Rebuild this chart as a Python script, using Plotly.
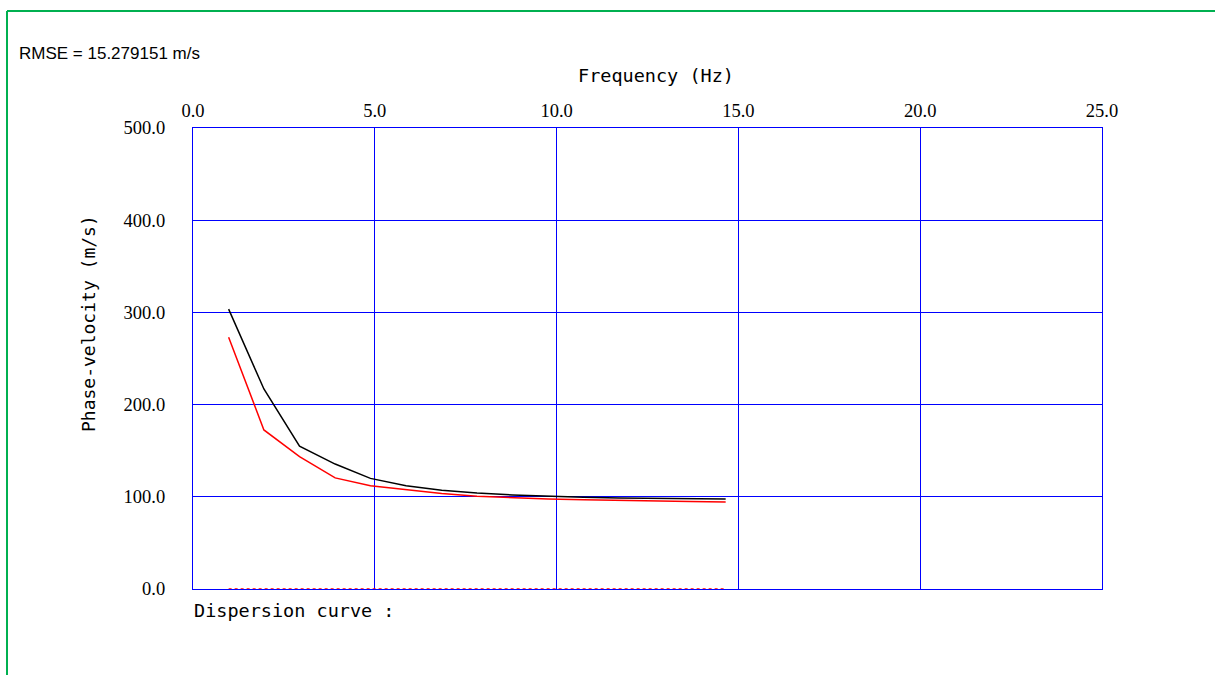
import plotly.graph_objects as go

# Data
freq = [0.98, 1.95, 2.93, 3.91, 4.88, 5.86, 6.84, 7.81, 8.79, 9.77, 10.74, 11.72, 12.70, 13.67, 14.65]
v_black = [303.5, 217.0, 155.0, 135.5, 120.0, 112.0, 107.0, 104.0, 102.0, 100.5, 99.5, 98.6, 98.1, 97.8, 97.6]
v_red = [273.0, 172.5, 143.5, 120.5, 112.0, 107.5, 103.5, 100.5, 98.8, 97.6, 96.7, 95.9, 95.3, 94.8, 94.4]
v_zero = [0.0] * len(freq)

x_ticks = [0, 5, 10, 15, 20, 25]
y_ticks = [0, 100, 200, 300, 400, 500]

rmse_text = "RMSE = 15.279151 m/s"
x_title = "Frequency (Hz)"
y_title = "Phase-velocity (m/s)"
legend_text = "Dispersion curve :"

W, H = 1215, 675
L, R, T, B = 193, 113, 128, 86
pw, ph = W - L - R, H - T - B

def px(xp):
    return (xp - L) / pw

def py(yp):
    return (H - B - yp) / ph

MONO = "DejaVu Sans Mono"
SERIF = "Liberation Serif"
SANS = "Liberation Sans"
BLUE = "#0000FF"

fig = go.Figure()
fig.add_trace(go.Scatter(x=freq, y=v_zero, mode="lines",
                         line=dict(color="#FF0000", width=1.5, dash="dot"),
                         showlegend=False, hoverinfo="skip"))
fig.add_trace(go.Scatter(x=freq, y=v_black, mode="lines",
                         line=dict(color="#000000", width=1.5),
                         showlegend=False))
fig.add_trace(go.Scatter(x=freq, y=v_red, mode="lines",
                         line=dict(color="#FF0000", width=1.5),
                         showlegend=False))

fig.update_layout(
    width=W, height=H,
    margin=dict(l=L, r=R, t=T, b=B),
    paper_bgcolor="white", plot_bgcolor="white",
    xaxis=dict(range=[0, 25], tickvals=x_ticks, ticktext=[f"{v:.1f}" for v in x_ticks],
               side="top", showgrid=True, gridcolor=BLUE, gridwidth=1,
               showline=True, linecolor=BLUE, linewidth=1.2, mirror=True,
               zeroline=False, ticks="", ticklabelstandoff=3,
               tickfont=dict(family=SERIF, size=18.5, color="black")),
    yaxis=dict(range=[0, 500], tickvals=y_ticks, ticktext=[f"{v:.1f}" for v in y_ticks],
               showgrid=True, gridcolor=BLUE, gridwidth=1,
               showline=True, linecolor=BLUE, linewidth=1.2, mirror=True,
               zeroline=False, ticks="", ticklabelstandoff=23,
               tickfont=dict(family=SERIF, size=18.5, color="black")),
    annotations=[
        dict(text=rmse_text, xref="paper", yref="paper", x=px(17), y=py(54),
             xanchor="left", yanchor="middle", showarrow=False,
             font=dict(family=SANS, size=17, color="black")),
        dict(text=x_title, xref="paper", yref="paper", x=px(656), y=py(75),
             xanchor="center", yanchor="middle", showarrow=False,
             font=dict(family=MONO, size=18.5, color="black")),
        dict(text=y_title, xref="paper", yref="paper", x=px(88), y=py(324),
             xanchor="center", yanchor="middle", showarrow=False, textangle=-90,
             font=dict(family=MONO, size=18, color="black")),
        dict(text=legend_text, xref="paper", yref="paper", x=px(192), y=py(610),
             xanchor="left", yanchor="middle", showarrow=False,
             font=dict(family=MONO, size=18.5, color="black")),
    ],
    shapes=[
        dict(type="line", xref="paper", yref="paper", x0=px(7), x1=px(1230), y0=py(11), y1=py(11),
             line=dict(color="#00B050", width=2)),
        dict(type="line", xref="paper", yref="paper", x0=px(7), x1=px(7), y0=py(11), y1=py(690),
             line=dict(color="#00B050", width=2)),
    ],
)

fig.write_html("out.html")
